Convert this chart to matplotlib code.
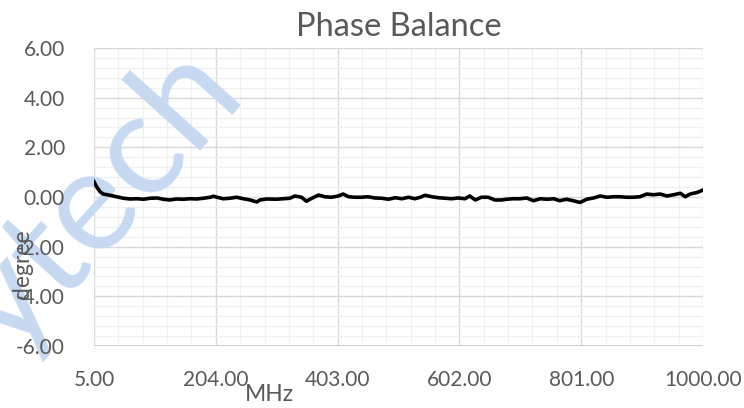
import matplotlib.pyplot as plt
from matplotlib.ticker import MultipleLocator, FixedLocator

freq = [5, 9, 15, 20, 31, 42, 53, 64, 75, 86, 97, 108, 118, 129, 140, 151,
        162, 173, 184, 195, 200, 206, 216, 227, 238, 249, 260, 271, 276, 287,
        303, 314, 325, 333, 344, 352, 361, 372, 382, 393, 404, 412, 421, 431,
        442, 453, 464, 475, 486, 497, 508, 519, 529, 538, 546, 557, 568, 579,
        589, 600, 611, 619, 628, 638, 649, 660, 671, 679, 690, 701, 712, 723,
        734, 745, 756, 766, 777, 788, 799, 810, 821, 832, 843, 854, 864, 875,
        886, 897, 908, 919, 930, 941, 952, 963, 971, 979, 990, 1000]
phase = [0.62, 0.42, 0.21, 0.12, 0.07, 0.01, -0.05, -0.08, -0.07, -0.09,
         -0.05, -0.04, -0.09, -0.12, -0.08, -0.09, -0.07, -0.08, -0.05, -0.01,
         0.03, -0.01, -0.07, -0.05, -0.01, -0.07, -0.12, -0.20, -0.12, -0.08,
         -0.09, -0.07, -0.05, 0.04, -0.01, -0.17, -0.05, 0.08, 0.01, -0.01,
         0.04, 0.12, 0.01, -0.01, -0.01, 0.01, -0.04, -0.05, -0.09, -0.03,
         -0.07, -0.01, -0.07, -0.01, 0.07, 0.01, -0.03, -0.05, -0.07, -0.04,
         -0.07, 0.04, -0.12, -0.01, -0.01, -0.12, -0.12, -0.09, -0.07, -0.07,
         -0.04, -0.15, -0.07, -0.09, -0.07, -0.15, -0.09, -0.15, -0.22, -0.09,
         -0.04, 0.04, -0.01, 0.01, 0.01, -0.01, -0.01, 0.01, 0.12, 0.09,
         0.12, 0.04, 0.09, 0.15, 0.01, 0.12, 0.18, 0.28]

x_ticks = [5, 204, 403, 602, 801, 1000]
y_ticks = [-6, -4, -2, 0, 2, 4, 6]

plt.rcParams['font.family'] = ['Lato', 'DejaVu Sans']
text_color = '#595959'

fig = plt.figure(figsize=(7.44, 4.08), dpi=100)
rect = [94 / 744, 62 / 408, 609 / 744, 298 / 408]

# back axes: gridlines only
bg = fig.add_axes(rect, zorder=0)
bg.set_xlim(5, 1000)
bg.set_ylim(-6, 6)
bg.xaxis.set_major_locator(FixedLocator(x_ticks))
bg.xaxis.set_minor_locator(MultipleLocator(39.8, offset=5))
bg.yaxis.set_major_locator(FixedLocator(y_ticks))
bg.yaxis.set_minor_locator(MultipleLocator(0.4))
bg.grid(which='major', color='#d9d9d9', linewidth=1.0)
bg.grid(which='minor', color='#f0f0f0', linewidth=1.0)
bg.tick_params(which='both', length=0, labelbottom=False, labelleft=False)
for s in bg.spines.values():
    s.set_visible(False)

# watermark sits over the grid, under the labels and the line
fig.text(100 / 744, 1 - 200 / 408, "ytech", fontsize=104, rotation=48,
         color='#c6d9f1', ha='center', va='center', zorder=0.5)

# front axes: line, labels
ax = fig.add_axes(rect, zorder=1)
ax.patch.set_visible(False)
ax.plot(freq, phase, color='black', linewidth=2.6, zorder=3)
ax.set_xlim(5, 1000)
ax.set_ylim(-6, 6)
ax.xaxis.set_major_locator(FixedLocator(x_ticks))
ax.yaxis.set_major_locator(FixedLocator(y_ticks))
ax.set_xticklabels(["%.2f" % v for v in x_ticks])
ax.set_yticklabels(["%.2f" % v for v in y_ticks])
for s in ax.spines.values():
    s.set_visible(False)
ax.axhline(-6, color='#c8c8c8', linewidth=1.2, zorder=2)

ax.tick_params(which='both', length=0)
ax.tick_params(axis='y', pad=21, labelsize=15, labelcolor=text_color)
ax.tick_params(axis='x', pad=17, labelsize=15, labelcolor=text_color)

ax.set_title("Phase Balance", fontsize=23.5, color=text_color, pad=9)
fig.text(269 / 744, 1 - 384 / 408, "MHz", fontsize=16.5, color=text_color,
         ha='center', va='top', zorder=2)
fig.text(22 / 744, 1 - 264 / 408, "degree", fontsize=16.5, color=text_color,
         rotation=90, ha='center', va='center', zorder=2)

fig.savefig('out.png', dpi=100)
